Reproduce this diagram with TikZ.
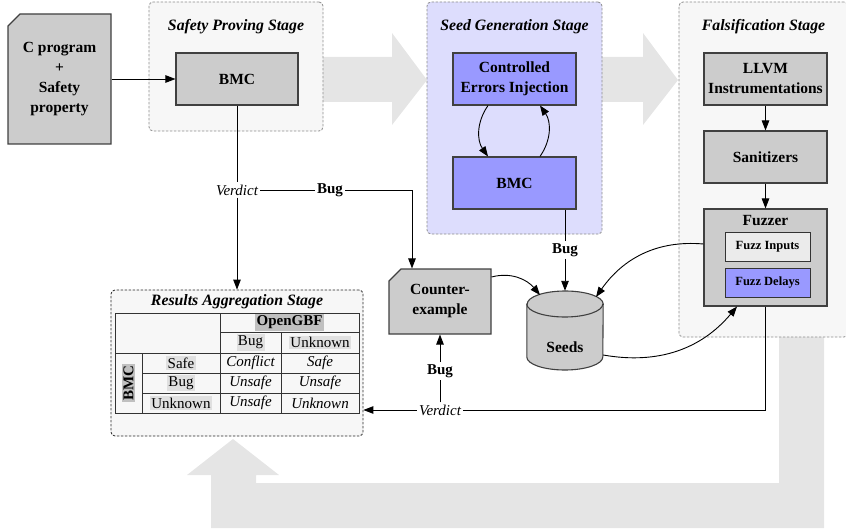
\documentclass[tikz,border=0pt]{standalone}
\usepackage{fontspec}
\setmainfont{Liberation Serif}
\usetikzlibrary{arrows.meta,shapes.misc,calc}
\definecolor{boxgray}{HTML}{CCCCCC}
\definecolor{blueb}{HTML}{9999FF}
\definecolor{stagefill}{HTML}{F7F7F7}
\definecolor{seedfill}{HTML}{DDDDFD}
\definecolor{arrowgray}{HTML}{E5E5E5}
\definecolor{lightbox}{HTML}{EBEBEB}
\definecolor{hl}{HTML}{E0E0E0}
\definecolor{hldark}{HTML}{C0C0C0}
\begin{document}
\begin{tikzpicture}[x=1pt,y=1pt,
 stagebox/.style={draw=black!45, dash pattern=on 2.5pt off 1.5pt, line width=0.8pt, fill=stagefill, rounded corners=4pt, inner sep=0pt},
 resbox/.style={stagebox, draw=black!85},
 stagetitle/.style={font=\fontsize{15.8}{18}\selectfont\bfseries\itshape, inner sep=1pt},
 procbox/.style={draw=black!75, line width=1.1pt, fill=boxgray, minimum width=122pt, minimum height=52pt, inner sep=2pt, align=center, font=\fontsize{15.5}{20}\selectfont\bfseries},
 bluebox/.style={procbox, fill=blueb},
 docbox/.style={procbox, chamfered rectangle, chamfered rectangle corners=north west, chamfered rectangle xsep=6pt, chamfered rectangle ysep=6pt},
 smallbox/.style={draw=black!80, line width=1pt, minimum width=85pt, minimum height=29pt, inner sep=1pt, font=\fontsize{12.5}{15}\selectfont\bfseries},
 conn/.style={draw=black, line width=0.9pt, -{Triangle[length=10pt,width=7.5pt]}},
 plainline/.style={draw=black, line width=0.9pt},
 lblbold/.style={font=\fontsize{15}{18}\selectfont\bfseries, inner sep=2pt},
 lblit/.style={font=\fontsize{15}{18}\selectfont\itshape, inner sep=2pt},
 tline/.style={draw=black!80, line width=1pt},
 tcell/.style={font=\fontsize{15}{18}\selectfont, inner sep=1.5pt},
 tcellit/.style={font=\fontsize{15}{18}\selectfont\itshape, inner sep=1pt},
 hlcell/.style={tcell, fill=hl},
 hldcell/.style={tcell, fill=hldark, font=\fontsize{15}{18}\selectfont\bfseries},
 cylpart/.style={draw=black!75, line width=1.1pt}
]
\useasboundingbox (0,0) rectangle (846,-532);

% big grey flow arrows
\fill[arrowgray] (318,-57) -- (392,-57) -- (392,-33) -- (427,-80) -- (392,-125) -- (392,-102) -- (318,-102) -- cycle;
\fill[arrowgray] (598,-57) -- (643,-57) -- (643,-33) -- (678,-80) -- (643,-125) -- (643,-102) -- (598,-102) -- cycle;
\fill[arrowgray] (779,-333) -- (824,-333) -- (824,-528) -- (211,-528) -- (211,-475) -- (187,-475) -- (233,-439) -- (279,-475) -- (256,-475) -- (256,-483) -- (779,-483) -- cycle;

% stage containers
\node[stagebox, minimum width=174pt, minimum height=129pt] (safety) at (236,-66.5) {};
\node[stagebox, fill=seedfill, minimum width=175pt, minimum height=232pt] (seedstage) at (514.5,-118) {};
\node[stagebox, minimum width=169pt, minimum height=335pt] (falsstage) at (763.5,-169.5) {};
\node[resbox, minimum width=252pt, minimum height=146pt] (results) at (237,-363) {};

\node[stagetitle] (safetyt) at (236,-27) {Safety Proving Stage};
\node[stagetitle] (seedt) at (514.5,-27) {Seed Generation Stage};
\node[stagetitle] (falst) at (763.5,-27) {Falsification Stage};
\node[stagetitle] (resultst) at (237,-302) {Results Aggregation Stage};

% process nodes
\node[docbox, minimum width=103pt, minimum height=130pt] (cprog) at (59.5,-79) {C program\\+\\Safety\\property};
\node[procbox] (bmc1) at (237,-79) {BMC};
\node[bluebox, minimum width=123pt] (cei) at (514.5,-79) {Controlled\\Errors Injection};
\node[bluebox, minimum width=123pt] (bmc2) at (514.5,-183) {BMC};
\node[procbox, minimum width=123pt] (llvm) at (765.5,-79) {LLVM\\Instrumentations};
\node[procbox, minimum width=123pt] (sanit) at (765.5,-157) {Sanitizers};
\node[procbox, minimum width=123pt, minimum height=97pt] (fuzzer) at (765.5,-257.5) {};
\node[font=\fontsize{15.5}{18}\selectfont\bfseries, inner sep=1pt] (fuzzert) at (765.5,-221) {Fuzzer};
\node[smallbox, fill=lightbox] (fin) at (767.5,-246.5) {Fuzz Inputs};
\node[smallbox, fill=blueb] (fdel) at (767.5,-282.5) {Fuzz Delays};
\node[docbox, minimum width=102pt, minimum height=65pt] (counter) at (440,-301.5) {Counter-\\example};

% Seeds database cylinder
\node[minimum width=76pt, minimum height=79pt, inner sep=0pt] (seeds) at (565,-330.5) {};
\filldraw[cylpart, fill=boxgray] (seeds.west |- 0,-304) -- (seeds.west |- 0,-357) arc[start angle=180, end angle=360, x radius=38, y radius=13] -- (seeds.east |- 0,-304) arc[start angle=0, end angle=180, x radius=38, y radius=13] -- cycle;
\draw[cylpart] (seeds.west |- 0,-304) arc[start angle=180, end angle=360, x radius=38, y radius=13];
\node[font=\fontsize{15.5}{18}\selectfont\bfseries, inner sep=1pt] (seedst) at (565,-347) {Seeds};

% labels on connectors
\node[lblit] (v1) at (237,-190) {Verdict};
\node[lblbold] (bug1) at (330,-190) {Bug};
\node[lblbold] (bug2) at (565,-250) {Bug};
\node[lblbold] (bug3) at (440,-371) {Bug};
\node[lblit] (v2) at (440,-410) {Verdict};

% connectors
\draw[conn] (cprog.east) -- (bmc1.west);
\draw[plainline] (bmc1.south) -- (v1.north);
\draw[conn] (v1.south) -- (results.north);
\draw[plainline] (v1.east) -- (bug1.west);
\draw[conn] (bug1.east) -| ([xshift=-28pt]counter.north);
\draw[conn] ([xshift=-26.5pt]cei.south) to[out=-125,in=125] ([xshift=-26.5pt]bmc2.north);
\draw[conn] ([xshift=25.5pt]bmc2.north) to[out=55,in=-55] ([xshift=25.5pt]cei.south);
\draw[conn] (llvm.south) -- (sanit.north);
\draw[conn] (sanit.south) -- (fuzzer.north);
\draw[plainline] (bmc2.south -| bug2) -- (bug2.north);
\draw[conn] (bug2.south) -- (seeds.north);
\draw[conn] ([yshift=24.5pt]counter.east) to[out=15,in=130] ([xshift=-25pt,yshift=35.5pt]seeds.center);
\draw[conn] ([yshift=13.5pt]fuzzer.west) to[out=175,in=55] ([xshift=31pt,yshift=33.5pt]seeds.center);
\draw[conn] ([yshift=-24.5pt]seeds.east) to[out=-10,in=-130] ([xshift=-28.5pt]fuzzer.south);
\draw[plainline] (fuzzer.south) |- (v2.east);
\draw[conn] (v2.west) -- (results.east |- v2);
\draw[plainline] (v2.north) -- (bug3.south);
\draw[conn] (bug3.north) -- (counter.south);

% results table
\draw[tline] (115,-313) rectangle (359,-413);
\draw[tline] (220,-332) -- (359,-332);
\draw[tline] (115,-353) -- (359,-353);
\draw[tline] (142,-373) -- (359,-373);
\draw[tline] (142,-393) -- (359,-393);
\draw[tline] (142,-353) -- (142,-413);
\draw[tline] (220,-313) -- (220,-413);
\draw[tline] (281,-332) -- (281,-413);
\node[hldcell] (opengbf) at (289.5,-322.5) {OpenGBF};
\node[hlcell] (hbug) at (250.5,-342.5) {Bug};
\node[hlcell] (hunk) at (320,-342.5) {Unknown};
\node[hldcell, rotate=90] (bmclbl) at (128.5,-383) {BMC};
\node[hlcell] (rsafe) at (181,-363) {Safe};
\node[hlcell] (rbug) at (181,-383) {Bug};
\node[hlcell] (runk) at (181,-403) {Unknown};
\node[tcellit] (c11) at (250.5,-363) {Conflict};
\node[tcellit] (c12) at (320,-363) {Safe};
\node[tcellit] (c21) at (250.5,-383) {Unsafe};
\node[tcellit] (c22) at (320,-383) {Unsafe};
\node[tcellit] (c31) at (250.5,-403) {Unsafe};
\node[tcellit] (c32) at (320,-403) {Unknown};
\end{tikzpicture}
\end{document}
